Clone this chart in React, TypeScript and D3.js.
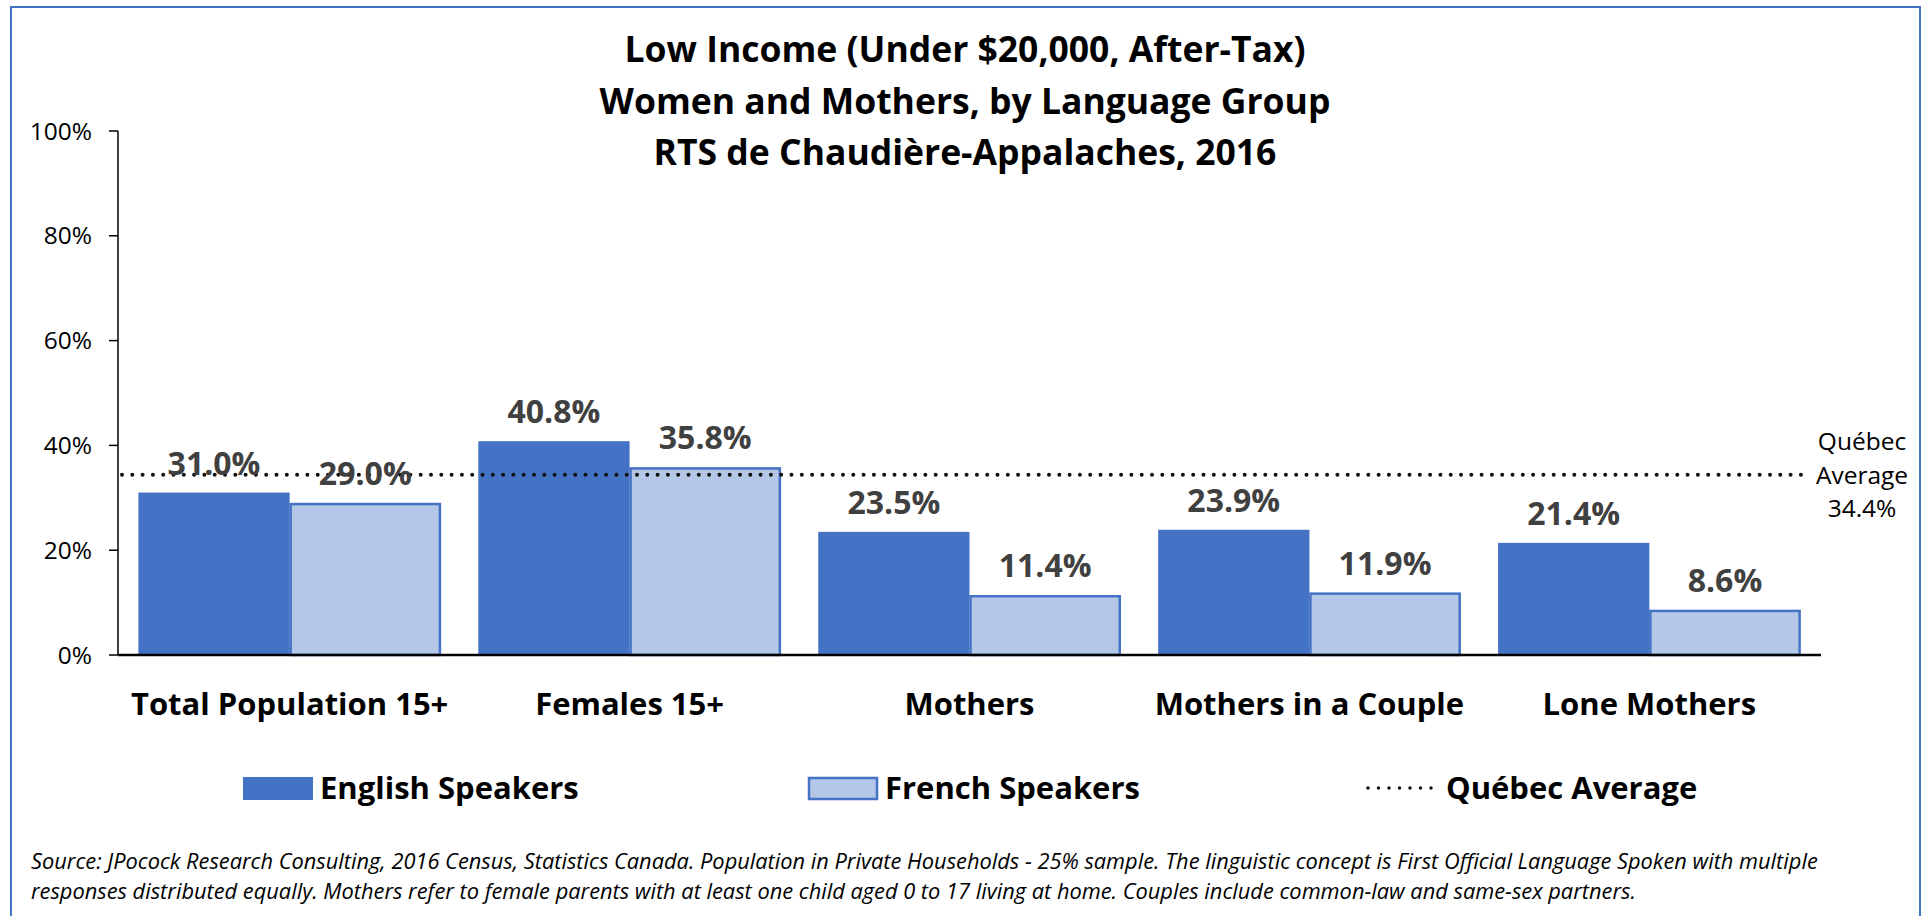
import { useMemo } from 'react';
import * as d3 from 'd3';

const categories = ['Total Population 15+', 'Females 15+', 'Mothers', 'Mothers in a Couple', 'Lone Mothers'];
const englishValues = [31.0, 40.8, 23.5, 23.9, 21.4];
const frenchValues = [29.0, 35.8, 11.4, 11.9, 8.6];
const quebecAverage = 34.4;
const yTicks = [0, 20, 40, 60, 80, 100];
const seriesNames = ['English Speakers', 'French Speakers'];
const titleLines = [
  'Low Income (Under $20,000, After-Tax)',
  'Women and Mothers, by Language Group',
  'RTS de Chaudière-Appalaches, 2016',
];
const sourceLines = [
  'Source: JPocock Research Consulting, 2016 Census, Statistics Canada. Population in Private Households - 25% sample. The linguistic concept is First Official Language Spoken with multiple',
  'responses distributed equally. Mothers refer to female parents with at least one child aged 0 to 17 living at home. Couples include common-law and same-sex partners.',
];

const W = 1925;
const H = 916;
const BLUE = '#4472C4';
const LIGHT = '#B4C7E7';
const FONT = '"Open Sans", "Noto Sans", sans-serif';

const App = () => {
  const left = 118;
  const right = 1821;
  const top = 131;
  const bottom = 655;

  const x0 = useMemo(
    () => d3.scaleBand<string>().domain(categories).range([left, right]).paddingInner(0.11).paddingOuter(0.06),
    []
  );
  const x1 = useMemo(
    () => d3.scaleBand<string>().domain(seriesNames).range([0, x0.bandwidth()]),
    [x0]
  );
  const y = useMemo(() => d3.scaleLinear().domain([0, 100]).range([bottom, top]), []);

  const rows = categories.map((c, i) => ({ cat: c, values: [englishValues[i], frenchValues[i]] }));
  const avgY = y(quebecAverage);

  return (
    <svg width={W} height={H} style={{ position: 'absolute', left: 0, top: 0, display: 'block' }} fontFamily={FONT}>
      <rect x={0} y={0} width={W} height={H} fill="#fff" />
      {/* outer frame */}
      <rect x={11} y={7} width={1909} height={H + 20} fill="none" stroke={BLUE} strokeWidth={2} />

      {/* title */}
      {titleLines.map((t, i) => (
        <text key={t} x={965} y={62 + i * 51.5} textAnchor="middle" fontSize={35.5} fontWeight={700} fill="#000">
          {t}
        </text>
      ))}

      {/* y axis */}
      <line x1={left} x2={left} y1={top} y2={bottom} stroke="#000" strokeWidth={1.5} />
      {yTicks.map(t => (
        <g key={t}>
          <line x1={left - 9} x2={left} y1={y(t)} y2={y(t)} stroke="#000" strokeWidth={1.5} />
          <text x={92} y={y(t)} dy="0.35em" textAnchor="end" fontSize={24.5} fill="#000">
            {t}%
          </text>
        </g>
      ))}

      {/* bars */}
      {rows.map(r => (
        <g key={r.cat} transform={`translate(${x0(r.cat)},0)`}>
          {r.values.map((v, j) => {
            const bx = x1(seriesNames[j]) as number;
            const bw = x1.bandwidth();
            return j === 0 ? (
              <rect key={j} x={bx} y={y(v)} width={bw} height={bottom - y(v)} fill={BLUE} />
            ) : (
              <rect
                key={j}
                x={bx + 1}
                y={y(v) + 1}
                width={bw - 2}
                height={bottom - y(v) - 1}
                fill={LIGHT}
                stroke={BLUE}
                strokeWidth={2.5}
              />
            );
          })}
        </g>
      ))}

      {/* Québec average line */}
      <line
        x1={left + 4}
        x2={1806}
        y1={avgY}
        y2={avgY}
        stroke="#111"
        strokeWidth={4}
        strokeLinecap="round"
        strokeDasharray="0 10.3"
      />

      {/* value labels */}
      {rows.map(r => (
        <g key={r.cat + 'l'} transform={`translate(${x0(r.cat)},0)`}>
          {r.values.map((v, j) => (
            <text
              key={j}
              x={(x1(seriesNames[j]) as number) + x1.bandwidth() / 2}
              y={y(v) - 18}
              textAnchor="middle"
              fontSize={32}
              fontWeight={700}
              fill="#404040"
            >
              {v.toFixed(1)}%
            </text>
          ))}
        </g>
      ))}

      {/* x axis */}
      <line x1={left} x2={right} y1={bottom} y2={bottom} stroke="#000" strokeWidth={2.5} />
      {categories.map(c => (
        <text key={c} x={(x0(c) as number) + x0.bandwidth() / 2} y={715} textAnchor="middle" fontSize={31} fontWeight={700} fill="#000">
          {c}
        </text>
      ))}

      {/* right-side average label */}
      {['Québec', 'Average', `${quebecAverage.toFixed(1)}%`].map((t, i) => (
        <text key={t} x={1862} y={450 + i * 33.5} textAnchor="middle" fontSize={24.5} fill="#000">
          {t}
        </text>
      ))}

      {/* legend */}
      <rect x={243} y={777} width={70} height={23} fill={BLUE} />
      <text x={320} y={799} fontSize={31} fontWeight={700} fill="#000">{seriesNames[0]}</text>
      <rect x={809} y={778} width={68} height={21} fill={LIGHT} stroke={BLUE} strokeWidth={2.5} />
      <text x={885} y={799} fontSize={31} fontWeight={700} fill="#000">{seriesNames[1]}</text>
      <line x1={1368} x2={1433} y1={788} y2={788} stroke="#111" strokeWidth={3.5} strokeLinecap="round" strokeDasharray="0 10.5" />
      <text x={1446} y={799} fontSize={31} fontWeight={700} fill="#000">Québec Average</text>

      {/* source note */}
      {sourceLines.map((t, i) => (
        <text key={i} x={31} y={869 + i * 30} fontSize={21.8} fontStyle="italic" fill="#000">
          {t}
        </text>
      ))}
    </svg>
  );
};

export default App;
